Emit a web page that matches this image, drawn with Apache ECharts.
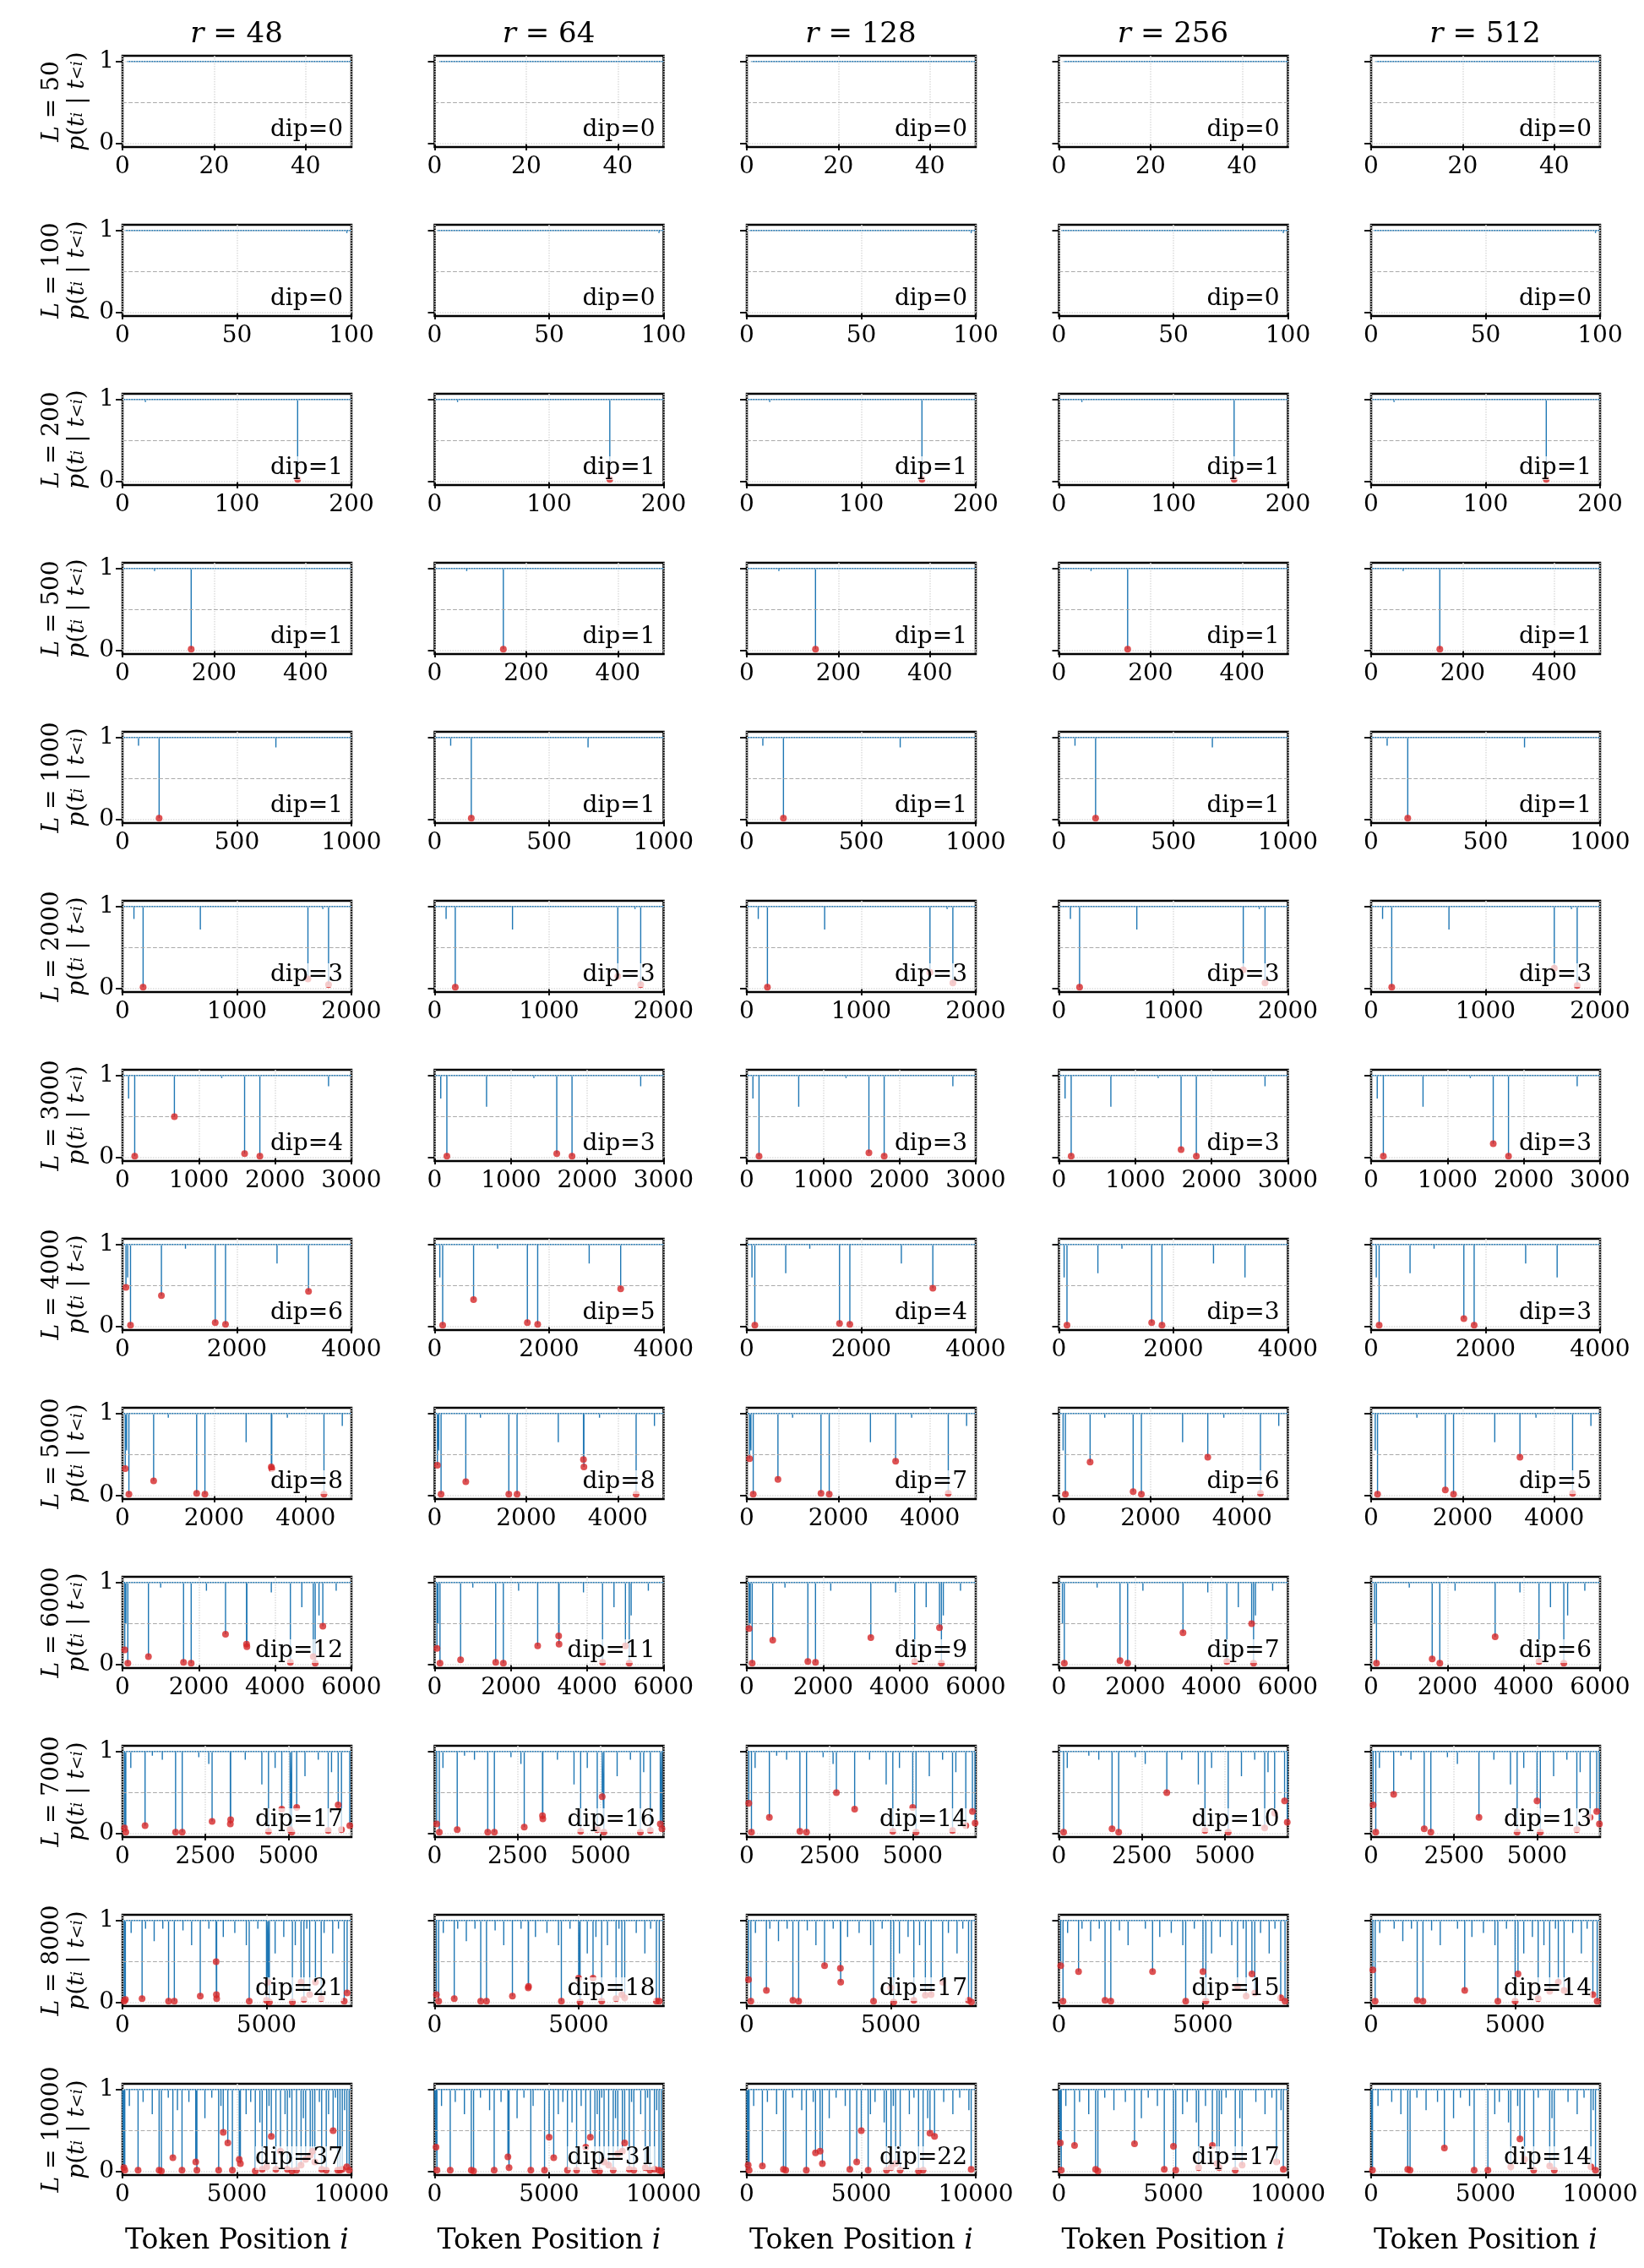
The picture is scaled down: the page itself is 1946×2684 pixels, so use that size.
<!DOCTYPE html>
<html>
<head>
<meta charset="utf-8">
<script src="https://cdn.jsdelivr.net/npm/echarts@6/dist/echarts.min.js"></script>
<style>html,body{margin:0;padding:0;background:#fff}#main{width:1946px;height:2684px}</style>
</head>
<body>
<div id="main"></div>
<script>
var ranks = [48, 64, 128, 256, 512];
var lengths = [50, 100, 200, 500, 1000, 2000, 3000, 4000, 5000, 6000, 7000, 8000, 10000];
var xMaxes = [50, 100, 200, 500, 1000, 2000, 3000, 4000, 5000, 6000, 6900, 7950, 10000];
var xIntervals = [20, 50, 100, 200, 500, 1000, 1000, 2000, 2000, 2000, 2500, 5000, 5000];

// red-marked dips per row, one list per rank column: [position, probability]
var dips50 = [[], [], [], [], []];
var dips100 = [[], [], [], [], []];
var dips200 = [[[153, 0.03]], [[153, 0.03]], [[153, 0.03]], [[153, 0.03]], [[153, 0.03]]];
var dips500 = [[[150, 0.02]], [[150, 0.02]], [[150, 0.02]], [[150, 0.02]], [[150, 0.02]]];
var dips1000 = [[[160, 0.02]], [[160, 0.02]], [[160, 0.02]], [[160, 0.02]], [[160, 0.02]]];
var dips2000 = [
  [[180, 0.02], [1620, 0.12], [1800, 0.05]],
  [[180, 0.02], [1600, 0.15], [1800, 0.05]],
  [[180, 0.02], [1600, 0.2], [1800, 0.07]],
  [[180, 0.02], [1610, 0.23], [1800, 0.07]],
  [[180, 0.02], [1600, 0.25], [1800, 0.04]]
];
var dips3000 = [
  [[160, 0.02], [680, 0.5], [1600, 0.05], [1800, 0.02]],
  [[160, 0.02], [1600, 0.05], [1800, 0.02]],
  [[160, 0.02], [1600, 0.06], [1800, 0.02]],
  [[160, 0.02], [1600, 0.1], [1800, 0.02]],
  [[160, 0.02], [1600, 0.17], [1800, 0.02]]
];
var dips4000 = [
  [[60, 0.48], [140, 0.02], [680, 0.38], [1620, 0.05], [1800, 0.03], [3250, 0.43]],
  [[140, 0.02], [680, 0.33], [1620, 0.05], [1800, 0.03], [3250, 0.46]],
  [[140, 0.02], [1620, 0.04], [1800, 0.03], [3250, 0.47]],
  [[140, 0.02], [1620, 0.05], [1800, 0.02]],
  [[140, 0.02], [1620, 0.1], [1800, 0.02]]
];
var dips5000 = [
  [[60, 0.33], [140, 0.02], [680, 0.18], [1620, 0.03], [1800, 0.02], [3250, 0.35], [3260, 0.33], [4400, 0.02]],
  [[60, 0.37], [140, 0.02], [680, 0.17], [1620, 0.02], [1800, 0.02], [3250, 0.44], [3260, 0.35], [4400, 0.02]],
  [[60, 0.45], [140, 0.02], [680, 0.2], [1620, 0.03], [1800, 0.02], [3250, 0.42], [4400, 0.03]],
  [[140, 0.02], [680, 0.41], [1620, 0.05], [1800, 0.02], [3250, 0.47], [4400, 0.03]],
  [[140, 0.02], [1620, 0.07], [1800, 0.02], [3250, 0.47], [4400, 0.03]]
];
var dips6000 = [
  [[60, 0.18], [140, 0.02], [680, 0.1], [1600, 0.03], [1800, 0.02], [2700, 0.37], [3250, 0.25], [3260, 0.22], [4400, 0.03], [5000, 0.1], [5050, 0.02], [5250, 0.47]],
  [[60, 0.2], [140, 0.02], [680, 0.06], [1600, 0.03], [1800, 0.02], [2700, 0.23], [3250, 0.35], [3260, 0.25], [4400, 0.03], [5000, 0.23], [5100, 0.02]],
  [[60, 0.44], [140, 0.02], [680, 0.3], [1600, 0.04], [1800, 0.03], [3250, 0.33], [4400, 0.04], [5050, 0.45], [5100, 0.02]],
  [[140, 0.02], [1600, 0.05], [1800, 0.02], [3250, 0.39], [4400, 0.04], [5050, 0.5], [5100, 0.02]],
  [[140, 0.02], [1600, 0.07], [1800, 0.02], [3250, 0.34], [4400, 0.04], [5050, 0.02]]
];
var dips7000 = [
  [[60, 0.07], [100, 0.02], [680, 0.1], [1600, 0.02], [1800, 0.02], [2700, 0.15], [3250, 0.12], [3260, 0.17], [4400, 0.03], [4800, 0.3], [5050, 0.05], [5100, 0.02], [5250, 0.32], [6200, 0.04], [6500, 0.35], [6600, 0.05], [6850, 0.1]],
  [[60, 0.12], [140, 0.02], [680, 0.05], [1600, 0.02], [1800, 0.02], [2700, 0.08], [3250, 0.22], [3260, 0.18], [4400, 0.03], [4900, 0.05], [5050, 0.45], [5100, 0.02], [6200, 0.02], [6500, 0.04], [6800, 0.12], [6850, 0.06]],
  [[60, 0.37], [140, 0.02], [680, 0.2], [1600, 0.03], [1800, 0.02], [2700, 0.5], [3250, 0.3], [4400, 0.03], [5000, 0.32], [5100, 0.02], [6200, 0.04], [6600, 0.1], [6800, 0.27], [6880, 0.13]],
  [[140, 0.02], [1600, 0.06], [1800, 0.02], [3250, 0.5], [4400, 0.04], [5100, 0.02], [6200, 0.07], [6500, 0.25], [6800, 0.4], [6880, 0.14]],
  [[60, 0.35], [140, 0.02], [680, 0.48], [1600, 0.06], [1800, 0.02], [3250, 0.2], [4400, 0.02], [5000, 0.4], [5100, 0.02], [6200, 0.05], [6600, 0.2], [6800, 0.27], [6880, 0.12]]
];
var dips8000 = [
  [[60, 0.02], [100, 0.04], [680, 0.05], [1600, 0.02], [1800, 0.02], [2700, 0.08], [3250, 0.5], [3260, 0.1], [3270, 0.05], [4400, 0.02], [5000, 0.03], [5050, 0.25], [5100, 0.01], [5900, 0.01], [6200, 0.25], [6300, 0.04], [6500, 0.1], [6700, 0.25], [6900, 0.05], [7700, 0.02], [7800, 0.12]],
  [[60, 0.1], [140, 0.02], [680, 0.05], [1600, 0.02], [1800, 0.02], [2700, 0.08], [3250, 0.18], [3260, 0.2], [4400, 0.02], [5000, 0.3], [5050, 0.01], [5500, 0.3], [5800, 0.02], [6300, 0.05], [6500, 0.1], [6600, 0.06], [7700, 0.02], [7800, 0.02]],
  [[60, 0.28], [140, 0.02], [680, 0.15], [1600, 0.03], [1800, 0.02], [2700, 0.45], [3250, 0.42], [3260, 0.25], [4400, 0.02], [5000, 0.18], [5100, 0.01], [5800, 0.03], [6200, 0.09], [6400, 0.1], [6800, 0.25], [7700, 0.03], [7800, 0.01]],
  [[60, 0.45], [140, 0.02], [680, 0.38], [1600, 0.03], [1800, 0.02], [3250, 0.38], [4400, 0.02], [5000, 0.38], [5100, 0.02], [6200, 0.2], [6500, 0.08], [6700, 0.35], [6800, 0.12], [7700, 0.06], [7850, 0.02]],
  [[60, 0.4], [140, 0.02], [1600, 0.03], [1800, 0.02], [3250, 0.15], [4400, 0.02], [5000, 0.02], [5100, 0.35], [5800, 0.05], [6200, 0.14], [6500, 0.25], [6700, 0.15], [7700, 0.1], [7850, 0.02]]
];
var dips10000 = [
  [[60, 0.05], [100, 0.02], [680, 0.02], [1600, 0.02], [1700, 0.01], [2200, 0.17], [2600, 0.02], [3200, 0.12], [3250, 0.02], [4200, 0.02], [4400, 0.48], [4600, 0.35], [4800, 0.02], [5100, 0.15], [5150, 0.1], [5800, 0.01], [6100, 0.03], [6300, 0.06], [6500, 0.43], [6700, 0.03], [6900, 0.25], [7200, 0.03], [7400, 0.01], [7600, 0.02], [7800, 0.08], [8000, 0.15], [8200, 0.2], [8300, 0.25], [8400, 0.12], [8700, 0.03], [8900, 0.02], [9200, 0.5], [9400, 0.02], [9500, 0.02], [9600, 0.03], [9800, 0.06], [9900, 0.02]],
  [[60, 0.3], [100, 0.02], [680, 0.02], [1600, 0.02], [1700, 0.01], [2600, 0.02], [3200, 0.18], [3250, 0.05], [4200, 0.02], [4800, 0.02], [5000, 0.42], [5200, 0.17], [5800, 0.02], [6200, 0.02], [6600, 0.3], [6800, 0.42], [7000, 0.02], [7200, 0.01], [7400, 0.12], [7600, 0.08], [7800, 0.02], [8000, 0.22], [8200, 0.25], [8300, 0.35], [8500, 0.03], [8700, 0.02], [9200, 0.05], [9400, 0.02], [9600, 0.03], [9800, 0.02], [9900, 0.01]],
  [[60, 0.08], [100, 0.02], [680, 0.07], [1600, 0.03], [1700, 0.02], [2600, 0.02], [3000, 0.23], [3200, 0.25], [3300, 0.1], [4500, 0.03], [4800, 0.12], [5000, 0.5], [5300, 0.02], [6100, 0.02], [6300, 0.05], [6500, 0.1], [6700, 0.02], [7500, 0.01], [7700, 0.02], [8000, 0.47], [8200, 0.43], [9800, 0.03]],
  [[60, 0.35], [100, 0.02], [680, 0.32], [1600, 0.03], [1700, 0.01], [3300, 0.34], [4600, 0.03], [5000, 0.31], [5100, 0.02], [6100, 0.05], [6700, 0.32], [6900, 0.1], [7000, 0.05], [7700, 0.02], [8000, 0.08], [9500, 0.12], [9800, 0.03]],
  [[60, 0.02], [1600, 0.03], [1700, 0.02], [3200, 0.29], [4500, 0.02], [5100, 0.02], [6100, 0.06], [6500, 0.4], [6700, 0.15], [7100, 0.02], [7800, 0.07], [8000, 0.02], [9600, 0.06], [9800, 0.02]]
];
var dipRows = [dips50, dips100, dips200, dips500, dips1000, dips2000, dips3000, dips4000, dips5000, dips6000, dips7000, dips8000, dips10000];

// smaller unmarked dips, shared by the columns of a row
var small50 = [];
var small100 = [[98, 0.97]];
var small200 = [[20, 0.97]];
var small500 = [[70, 0.97]];
var small1000 = [[70, 0.9], [670, 0.88]];
var small2000 = [[100, 0.85], [680, 0.72], [1750, 0.97]];
var small3000 = [[80, 0.72], [680, 0.62], [2700, 0.87], [1300, 0.97]];
var small4000 = [[90, 0.6], [680, 0.65], [2700, 0.77], [3250, 0.6], [1100, 0.95]];
var small5000 = [[90, 0.55], [1000, 0.95], [2700, 0.65], [4800, 0.85], [3600, 0.95]];
var small6000 = [[90, 0.5], [1000, 0.94], [2200, 0.9], [3900, 0.88], [4700, 0.7], [5600, 0.9], [5150, 0.6]];
var small7000 = [[250, 0.8], [900, 0.95], [1200, 0.9], [2300, 0.93], [2600, 0.85], [3700, 0.9], [4200, 0.6], [4600, 0.8], [5500, 0.7], [5900, 0.9], [6300, 0.75]];
var small8000 = [[300, 0.85], [800, 0.9], [1100, 0.75], [1400, 0.9], [2100, 0.88], [2400, 0.7], [3000, 0.9], [3500, 0.8], [3900, 0.85], [4300, 0.7], [4700, 0.9], [5300, 0.6], [5600, 0.8], [6000, 0.7], [6400, 0.9], [7000, 0.85], [7300, 0.6], [7500, 0.9]];
var small10000 = [[300, 0.8], [900, 0.85], [1300, 0.7], [2000, 0.9], [2400, 0.75], [2900, 0.85], [3600, 0.65], [3900, 0.9], [4300, 0.8], [5400, 0.7], [5600, 0.85], [6000, 0.6], [6400, 0.8], [7100, 0.7], [7300, 0.9], [7900, 0.65], [8600, 0.85], [9000, 0.7], [9300, 0.9], [9700, 0.75]];
var smallRows = [small50, small100, small200, small500, small1000, small2000, small3000, small4000, small5000, small6000, small7000, small8000, small10000];

var FONT = 'DejaVu Serif';
var BLUE = '#1f77b4', RED = '#d62728';
var grids = [], xAxes = [], yAxes = [], series = [], graphics = [];

ranks.forEach(function (r, c) {
  graphics.push({
    type: 'text', x: 145 + c * 369.5 + 135, y: 58,
    style: {
      text: '{i|r} = ' + r, align: 'center', verticalAlign: 'bottom',
      fontFamily: FONT, fontSize: 34, fill: '#000',
      rich: { i: { fontFamily: FONT, fontSize: 34, fontStyle: 'italic', fill: '#000' } }
    }
  });
});

lengths.forEach(function (L, ri) {
  ranks.forEach(function (r, c) {
    var idx = grids.length;
    var left = 145 + c * 369.5, top = 66 + ri * 200, w = 271, h = 108;
    grids.push({ left: left, top: top, width: w, height: h, show: true, borderColor: '#000', borderWidth: 2.5, backgroundColor: 'transparent' });
    var last = ri === lengths.length - 1;
    xAxes.push({
      type: 'value', gridIndex: idx, min: 0, max: xMaxes[ri], interval: xIntervals[ri],
      axisLine: { show: false },
      axisTick: { show: true, length: 8, lineStyle: { color: '#000', width: 1.8 } },
      axisLabel: {
        fontFamily: FONT, fontSize: 28, color: '#000', margin: 10,
        showMaxLabel: xMaxes[ri] % xIntervals[ri] === 0,
        formatter: function (v) { return String(v); }
      },
      splitLine: { show: true, lineStyle: { color: '#ddd', type: 'dotted', width: 1.5 } },
      name: last ? '{n|Token Position }{i|i}' : '',
      nameLocation: 'middle', nameGap: 62,
      nameTextStyle: { rich: { n: { fontFamily: FONT, fontSize: 33, color: '#000' }, i: { fontFamily: FONT, fontSize: 33, fontStyle: 'italic', color: '#000' } } }
    });
    yAxes.push({
      type: 'value', gridIndex: idx, min: -0.04, max: 1.07,
      axisLine: { show: false },
      axisTick: { show: true, length: 8, customValues: [0, 1], lineStyle: { color: '#000', width: 1.8 } },
      axisLabel: { show: c === 0, customValues: [0, 1], fontFamily: FONT, fontSize: 28, color: '#000', margin: 10 },
      splitLine: { show: false },
      name: c === 0 ? '{it|L} = ' + L + '\n{it|p}({it|t}{s|i} | {it|t}{s|<i})' : '',
      nameLocation: 'middle', nameRotate: 90, nameGap: 38,
      nameTextStyle: {
        lineHeight: 30,
        rich: {
          it: { fontFamily: FONT, fontSize: 28, fontStyle: 'italic', color: '#000' },
          s: { fontFamily: FONT, fontSize: 19, fontStyle: 'italic', color: '#000' }
        },
        fontFamily: FONT, fontSize: 28, color: '#000'
      }
    });

    var marked = dipRows[ri][c];
    var all = marked.concat(smallRows[ri]).slice().sort(function (a, b) { return a[0] - b[0]; });
    var line = [[1, 1]];
    all.forEach(function (d) { line.push([d[0], 1], [d[0], d[1]], [d[0], 1]); });
    line.push([xMaxes[ri], 1]);

    series.push({
      type: 'line', xAxisIndex: idx, yAxisIndex: idx, data: line, showSymbol: false,
      lineStyle: { color: BLUE, width: 1.4 }, animation: false, silent: true,
      markLine: {
        silent: true, symbol: 'none', label: { show: false },
        data: [
          { yAxis: 0.5, lineStyle: { color: '#aaa', type: 'dashed', width: 1.2 } },
          { yAxis: 0, lineStyle: { color: '#ddd', type: 'dotted', width: 1.5 } },
          { yAxis: 1, lineStyle: { color: '#ddd', type: 'dotted', width: 1.5 } }
        ]
      }
    });
    series.push({
      type: 'scatter', xAxisIndex: idx, yAxisIndex: idx, data: marked,
      symbolSize: 8, itemStyle: { color: RED }, animation: false, silent: true, z: 5
    });
    graphics.push({
      type: 'text', x: left + w - 10, y: top + h - 6, z: 10,
      style: {
        text: 'dip=' + marked.length, fontFamily: FONT, fontSize: 28, fill: '#000',
        align: 'right', verticalAlign: 'bottom',
        backgroundColor: 'rgba(255,255,255,0.7)'
      }
    });
  });
});

var chart = echarts.init(document.getElementById('main'));
chart.setOption({
  backgroundColor: '#fff',
  animation: false,
  grid: grids, xAxis: xAxes, yAxis: yAxes, series: series, graphic: graphics
});
</script>
</body>
</html>
